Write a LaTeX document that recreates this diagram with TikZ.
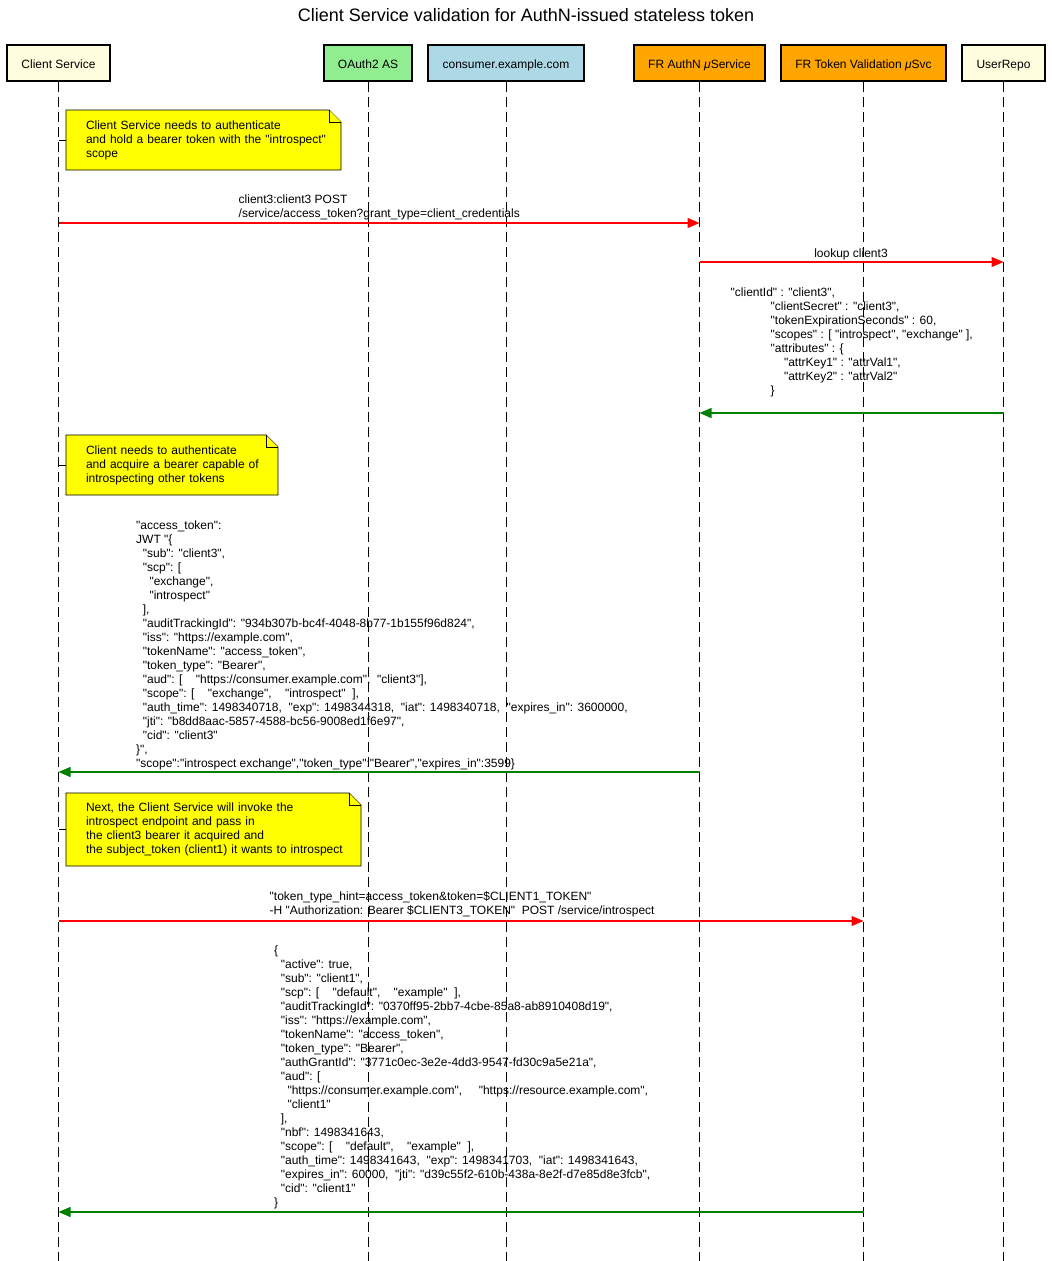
\documentclass[tikz,border=0pt]{standalone}
\usepackage{fontspec}
% straight ASCII quotes must stay straight
\setmainfont{Liberation Sans}[Ligatures=TeXOff]
\usetikzlibrary{arrows.meta,backgrounds}

\definecolor{pLightYellow}{HTML}{FFFFE0}
\definecolor{pLightGreen}{HTML}{90EE90}
\definecolor{pLightBlue}{HTML}{ADD8E6}
\definecolor{pOrange}{HTML}{FFA500}
\definecolor{noteYellow}{HTML}{FFFF00}
\definecolor{reqRed}{HTML}{FF0000}
\definecolor{respGreen}{HTML}{008000}

% body text: 12pt on a 14pt line pitch
\newcommand{\txt}{\fontsize{12}{14}\selectfont}
% multi-line message text, anchored on the baseline of its first line
\newcommand{\msgtext}[1]{\begin{tabular}[t]{@{}l@{}}#1\end{tabular}}

\begin{document}
\begin{tikzpicture}[x=1pt,y=-1pt,
  actor/.style={draw=black, line width=2pt, minimum height=36pt, inner sep=0pt,
    text height=11pt, text depth=1pt, font=\txt},
  lifeline/.style={draw=black, line width=1pt, dash pattern=on 10pt off 5pt},
  notebox/.style={anchor=north west, inner xsep=0pt, inner ysep=0pt, outer sep=0pt, align=left, font=\txt},
  noteshape/.style={fill=noteYellow, draw=black, line width=0.9pt, line join=miter},
  notetick/.style={draw=black, line width=1pt},
  req/.style={draw=reqRed, line width=1.1pt, -{Triangle[length=12pt,width=10pt]}},
  resp/.style={draw=respGreen, line width=1.1pt, -{Triangle[length=12pt,width=10pt]}},
  lbl/.style={anchor=base west, inner sep=0pt, font=\txt},
]
\useasboundingbox (0,0) rectangle (1052,1261);

% title
\node[anchor=base, inner sep=0pt, font=\fontsize{18}{22}\selectfont] (title) at (526,21)
  {Client Service validation for AuthN-issued stateless token};

% participants
\node[actor, fill=pLightYellow, minimum width=103pt] (cs) at (58.5,63) {Client Service};
\node[actor, fill=pLightGreen,  minimum width=88pt]  (oa) at (368,63) {OAuth2 AS};
\node[actor, fill=pLightBlue,   minimum width=156pt] (ce) at (506,63) {consumer.example.com};
\node[actor, fill=pOrange,      minimum width=131pt] (an) at (699.5,63) {FR AuthN \textit{μ}Service};
\node[actor, fill=pOrange,      minimum width=165pt] (tv) at (863.5,63) {FR Token Validation \textit{μ}Svc};
\node[actor, fill=pLightYellow, minimum width=83pt]  (ur) at (1003.5,63) {UserRepo};

\coordinate (bottom) at (0,1261);

% notes (text nodes; their sheets are drawn behind)
\node[notebox, text width=255pt, minimum height=60pt] (n1) at (86,110)
  {Client Service needs to authenticate\\and hold a bearer token with the "introspect"\\scope};
\node[notebox, text width=192pt, minimum height=60pt] (n2) at (86,435)
  {Client needs to authenticate\\and acquire a bearer capable of\\introspecting other tokens};
\node[notebox, text width=275pt, minimum height=73pt] (n3) at (86,793)
  {Next, the Client Service will invoke the\\introspect endpoint and pass in\\the client3 bearer it acquired and\\the subject\_token (client1) it wants to introspect};

\begin{scope}[on background layer]
  % lifelines
  \foreach \p in {cs,oa,ce,an,tv,ur}
    \draw[lifeline] (\p.south) -- (\p|-bottom);
  % note sheets with folded corner, tied to the client lifeline
  \foreach \n in {n1,n2,n3} {
    \draw[notetick] (cs|-\n.west) -- ([xshift=-20pt]\n.west);
    \draw[noteshape] ([xshift=-20pt]\n.north west) -- ([xshift=-12pt]\n.north east)
      -- ([yshift=-12pt]\n.north east) -- (\n.south east)
      -- ([xshift=-20pt]\n.south west) -- cycle;
    \draw[noteshape] ([xshift=-12pt]\n.north east) -- ([xshift=-12pt,yshift=-12pt]\n.north east)
      -- ([yshift=-12pt]\n.north east);
  }
\end{scope}

% message rows
\coordinate (y1) at (0,223);
\coordinate (y2) at (0,262);
\coordinate (y3) at (0,413);
\coordinate (y4) at (0,772);
\coordinate (y5) at (0,921);
\coordinate (y6) at (0,1212);

% client credentials request
\draw[req] (cs|-y1) -- (an|-y1);
\node[lbl] (m1) at (238.5,203)
  {\msgtext{client3:client3 POST\\/service/access\_token?grant\_type=client\_credentials}};

% lookup in the user repository
\draw[req] (an|-y2) -- (ur|-y2);
\node[anchor=base, inner sep=0pt, font=\txt] (m2) at (851,257) {lookup client3};

% client record
\draw[resp] (ur|-y3) -- (an|-y3);
\node[lbl] (m3) at (730.5,296)
  {\msgtext{"clientId" : "client3",\\
  ~~~~~~~~~~~~"clientSecret" : "client3",\\
  ~~~~~~~~~~~~"tokenExpirationSeconds" : 60,\\
  ~~~~~~~~~~~~"scopes" : [ "introspect", "exchange" ],\\
  ~~~~~~~~~~~~"attributes" : \{\\
  ~~~~~~~~~~~~~~~~"attrKey1" : "attrVal1",\\
  ~~~~~~~~~~~~~~~~"attrKey2" : "attrVal2"\\
  ~~~~~~~~~~~~\}}};

% issued access token
\draw[resp] (an|-y4) -- (cs|-y4);
\node[lbl] (m4) at (136,529)
  {\msgtext{"access\_token":\\
  JWT "\{\\
  ~~"sub": "client3",\\
  ~~"scp": [\\
  ~~~~"exchange",\\
  ~~~~"introspect"\\
  ~~],\\
  ~~"auditTrackingId": "934b307b-bc4f-4048-8b77-1b155f96d824",\\
  ~~"iss": "https://example.com",\\
  ~~"tokenName": "access\_token",\\
  ~~"token\_type": "Bearer",\\
  ~~"aud": [~~~~"https://consumer.example.com",~~"client3"],\\
  ~~"scope": [~~~~"exchange",~~~~"introspect"~~],\\
  ~~"auth\_time": 1498340718,~~"exp": 1498344318,~~"iat": 1498340718,~~"expires\_in": 3600000,\\
  ~~"jti": "b8dd8aac-5857-4588-bc56-9008ed1f6e97",\\
  ~~"cid": "client3"\\
  \}",\\
  "scope":"introspect exchange","token\_type":"Bearer","expires\_in":3599\}}};

% introspection request
\draw[req] (cs|-y5) -- (tv|-y5);
\node[lbl] (m5) at (269.5,900)
  {\msgtext{"token\_type\_hint=access\_token\&token=\$CLIENT1\_TOKEN"\\
  -H "Authorization: Bearer \$CLIENT3\_TOKEN"~~POST /service/introspect}};

% introspection result
\draw[resp] (tv|-y6) -- (cs|-y6);
\node[lbl] (m6) at (274,954)
  {\msgtext{\{\\
  ~~"active": true,\\
  ~~"sub": "client1",\\
  ~~"scp": [~~~~"default",~~~~"example"~~],\\
  ~~"auditTrackingId": "0370ff95-2bb7-4cbe-85a8-ab8910408d19",\\
  ~~"iss": "https://example.com",\\
  ~~"tokenName": "access\_token",\\
  ~~"token\_type": "Bearer",\\
  ~~"authGrantId": "3771c0ec-3e2e-4dd3-9547-fd30c9a5e21a",\\
  ~~"aud": [\\
  ~~~~"https://consumer.example.com",~~~~~"https://resource.example.com",\\
  ~~~~"client1"\\
  ~~],\\
  ~~"nbf": 1498341643,\\
  ~~"scope": [~~~~"default",~~~~"example"~~],\\
  ~~"auth\_time": 1498341643,~~"exp": 1498341703,~~"iat": 1498341643,\\
  ~~"expires\_in": 60000,~~"jti": "d39c55f2-610b-438a-8e2f-d7e85d8e3fcb",\\
  ~~"cid": "client1"\\
  \}}};

\end{tikzpicture}
\end{document}
